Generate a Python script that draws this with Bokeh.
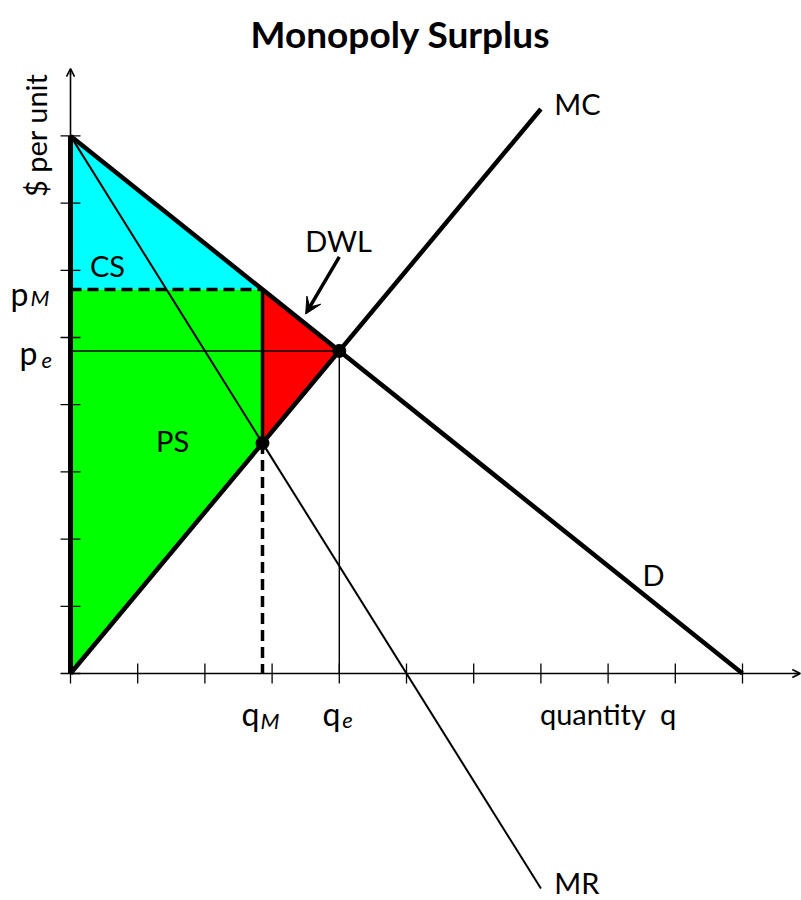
import numpy as np
from bokeh.plotting import figure
from bokeh.models import Range1d, Arrow, VeeHead, OpenHead
from bokeh.core.properties import value
from bokeh.embed import file_html
from bokeh.resources import INLINE

# ---- data ----
demand_intercept = 8.0      # price at q = 0
demand_slope = 0.8          # P = 8 - 0.8 q
mc_slope = 1.2              # MC = 1.2 q
demand_q_end = 10.0
curve_q_end = 7.0           # MC and MR drawn to q = 7
x_ticks = [0, 1, 2, 3, 4, 5, 6, 7, 8, 9, 10]
y_ticks = [0, 1, 2, 3, 4, 5, 6, 7, 8]
x_axis_end = 10.86
y_axis_end = 9.0
title_text = "Monopoly Surplus"
x_axis_label = "quantity\u00a0\u00a0q"
y_axis_label = "$\u00a0per\u00a0unit"

# derived equilibrium values
q_e = demand_intercept / (demand_slope + mc_slope)
p_e = mc_slope * q_e
q_m = demand_intercept / (2 * demand_slope + mc_slope)
p_m = demand_intercept - demand_slope * q_m
mc_m = mc_slope * q_m

# ---- geometry of page ----
K = 67.2               # px per unit
W, H = 801, 900
ox, oy = 70, 673       # canvas px of origin
xs = -ox / K
xe = xs + W / K
ye = oy / K
ys = ye - H / K
PX = 1.0 / K           # one pixel in data units

FONT = value("Lato")
BLACK = "#000000"

p = figure(width=W, height=H, output_backend="svg", toolbar_location=None,
           x_range=Range1d(xs, xe), y_range=Range1d(ys, ye), min_border=0)
p.xaxis.visible = False
p.yaxis.visible = False
p.grid.visible = False
p.outline_line_color = None
p.background_fill_color = "white"

# ---- filled areas ----
p.patch([0, q_m, 0], [demand_intercept, p_m, p_m], fill_color="#00FFFF", line_color=None)
p.patch([0, q_m, q_m, 0], [p_m, p_m, mc_m, 0], fill_color="#00FF00", line_color=None)
p.patch([q_m, q_e, q_m], [p_m, p_e, mc_m], fill_color="#FF0000", line_color=BLACK,
        line_width=3.5, line_join="miter")

# ---- axes ----
p.line([0, x_axis_end - 4 * PX], [0, 0], line_color=BLACK, line_width=1.6)
p.line([0, 0], [0, y_axis_end - 4 * PX], line_color=BLACK, line_width=1.6)
p.add_layout(Arrow(end=OpenHead(size=8, line_width=1.6, line_color=BLACK),
                   x_start=x_axis_end - 6 * PX, y_start=0, x_end=x_axis_end, y_end=0,
                   line_width=1.6, line_color=BLACK))
p.add_layout(Arrow(end=OpenHead(size=8, line_width=1.6, line_color=BLACK),
                   x_start=0, y_start=y_axis_end - 6 * PX, x_end=0, y_end=y_axis_end,
                   line_width=1.6, line_color=BLACK))
tl = 10 * PX
p.segment(x0=x_ticks, y0=[-tl] * len(x_ticks), x1=x_ticks, y1=[tl] * len(x_ticks),
          line_color=BLACK, line_width=1.3)
p.segment(x0=[-tl] * len(y_ticks), y0=y_ticks, x1=[tl] * len(y_ticks), y1=y_ticks,
          line_color=BLACK, line_width=1.3)

# thick y-axis edge of surplus
p.line([0, 0], [0, demand_intercept], line_color=BLACK, line_width=5)

# ---- thin lines ----
p.line([0, q_e], [p_e, p_e], line_color=BLACK, line_width=1.4)
p.line([q_e, q_e], [p_e, 0], line_color=BLACK, line_width=1.4)
mr_q = np.array([0, curve_q_end])
p.line(mr_q, demand_intercept - 2 * demand_slope * mr_q, line_color=BLACK, line_width=2)

# ---- dashed lines ----
p.line([0, q_m], [p_m, p_m], line_color=BLACK, line_width=3.5, line_dash="11 6")
p.line([q_m, q_m], [mc_m, 0], line_color=BLACK, line_width=3.5, line_dash="11 6")

# ---- thick curves ----
d_q = np.array([0, demand_q_end])
p.line(d_q, demand_intercept - demand_slope * d_q, line_color=BLACK, line_width=4.5)
mc_q = np.array([0, curve_q_end])
p.line(mc_q, mc_slope * mc_q, line_color=BLACK, line_width=4.5)

# ---- points ----
p.scatter([q_e, q_m], [p_e, mc_m], size=13, fill_color=BLACK, line_color=BLACK)

# ---- DWL arrow ----
p.add_layout(Arrow(end=VeeHead(size=16, fill_color=BLACK, line_color=BLACK),
                   x_start=4.0, y_start=6.2, x_end=3.5, y_end=5.35,
                   line_width=3.5, line_color=BLACK))

# ---- labels ----
fs = value("29px")
def label(x, y, t, align="center", base="middle", size=fs, style="normal", angle=0.0):
    p.text(x=[x], y=[y], text=[t], text_font=FONT, text_font_size=size,
           text_align=align, text_baseline=base, text_font_style=style,
           text_color=BLACK, angle=angle)

# title
label(4.91, ye - 33 * PX, title_text, size=value("37px"), style="bold")

label(7.2, 8.48, "MC", align="left")
label(7.2, -3.18 + 5 * PX, "MR", align="left")
label(8.676, 1.473, "D")
label(0.55, 6.07, "CS")
label(1.52, 3.467, "PS")
label(3.99, 6.443, "DWL")
label(8.0, -40 * PX, x_axis_label, base="alphabetic")
label(-0.52, 8.006, y_axis_label, angle=np.pi / 2)

big = value("32px")
sub = value("22px")
# price labels
label(-42 * PX, p_m - 4 * PX, "p", align="right", base="alphabetic", size=big)
label(-40 * PX, p_m - 8 * PX, "M", align="left", base="alphabetic", size=sub, style="italic")
label(-33 * PX, p_e - 2 * PX, "p", align="right", base="alphabetic", size=big)
label(-29 * PX, p_e - 10 * PX, "e", align="left", base="alphabetic", size=sub, style="italic")
# quantity labels
label(q_m - 3 * PX, -40 * PX, "q", align="right", base="alphabetic", size=big)
label(q_m - 2 * PX, -47 * PX, "M", align="left", base="alphabetic", size=sub, style="italic")
label(q_e + 1 * PX, -40 * PX, "q", align="right", base="alphabetic", size=big)
label(q_e + 3 * PX, -47 * PX, "e", align="left", base="alphabetic", size=sub, style="italic")

open("out.html", "w").write(file_html(p, INLINE))
